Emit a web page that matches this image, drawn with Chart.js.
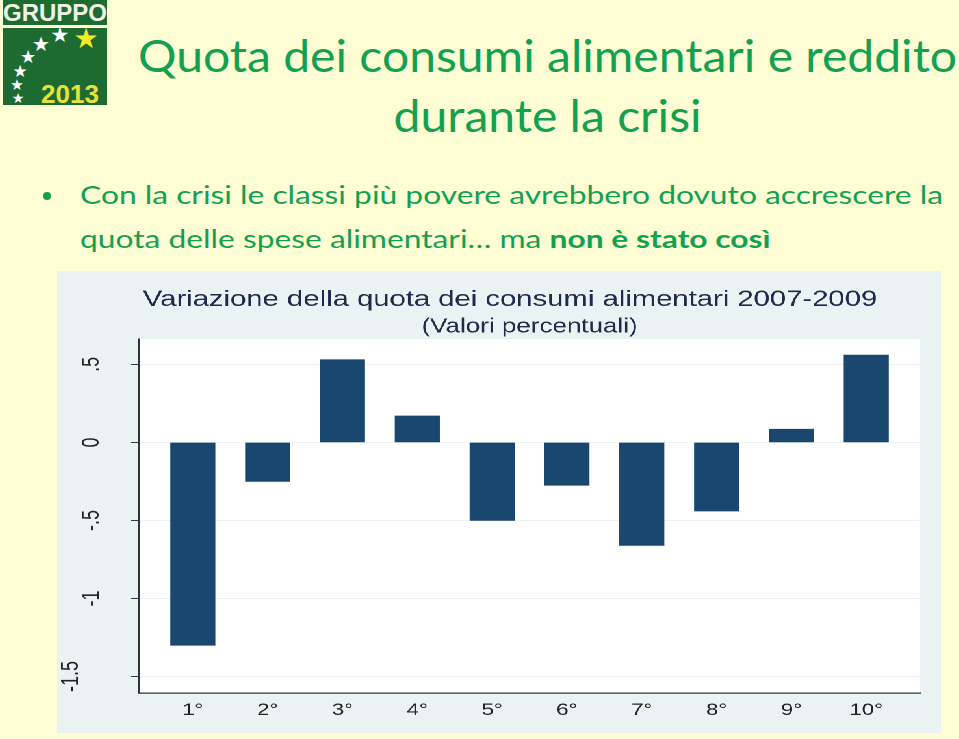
<!DOCTYPE html>
<html>
<head>
<meta charset="utf-8">
<script src="https://cdn.jsdelivr.net/npm/chart.js@4.4.0/dist/chart.umd.min.js"></script>
<style>
  html, body { margin: 0; padding: 0; }
  body {
    width: 959px; height: 739px; position: relative; overflow: hidden;
    background: #FFFDD3; font-family: Lato, "Open Sans", sans-serif;
  }
  .abs { position: absolute; }
  #logo-band {
    left: 3px; top: 0; width: 104px; height: 25px; background: #1D6B30;
    color: #EEF2E6; font: bold 24px "Liberation Sans", Arial, sans-serif;
    line-height: 25px; text-align: center;
  }
  #logo-box { left: 3px; top: 28px; width: 104px; height: 77px; background: #1D6B30; }
  .star {
    position: absolute; color: #fff; font-family: "DejaVu Sans", sans-serif;
    line-height: 1; transform: translate(-50%, -50%);
  }
  #year {
    position: absolute; left: 38px; top: 54px; color: #E6E23A;
    font: bold 26px "Liberation Sans", Arial, sans-serif; line-height: 24px;
  }
  #title {
    left: 138px; top: 25px; color: #12A150; font-size: 44px; line-height: 60px;
    text-align: center; white-space: nowrap; transform-origin: 0 0;
  }
  #bullets {
    left: 80px; top: 172px; color: #12A150; font-size: 25px; line-height: 44px;
    white-space: nowrap; transform-origin: 0 0;
  }
  #dot { left: 43px; top: 192px; width: 8px; height: 8px; border-radius: 50%; background: #12A150; }
  #frame {
    left: 57px; top: 271px; width: 680px; height: 462px; background: #EAF2F3;
    transform: scaleX(1.3); transform-origin: 0 0;
  }
</style>
</head>
<body>
<div id="logo-band" class="abs">GRUPPO</div>
<div id="logo-box" class="abs">
  <span class="star" style="left:57px; top:7px; font-size:21px">★</span>
  <span class="star" style="left:38px; top:16px; font-size:20px">★</span>
  <span class="star" style="left:25px; top:29px; font-size:18px">★</span>
  <span class="star" style="left:17px; top:43px; font-size:17px">★</span>
  <span class="star" style="left:14px; top:57px; font-size:15px">★</span>
  <span class="star" style="left:15px; top:70px; font-size:14px">★</span>
  <span class="star" style="left:83px; top:11px; font-size:28px; color:#F2EC2A">★</span>
  <div id="year">2013</div>
</div>

<div id="title" class="abs">
  <div>Quota dei consumi alimentari e reddito</div>
  <div>durante la crisi</div>
</div>

<div id="dot" class="abs"></div>
<div id="bullets" class="abs">
  <div>Con la crisi le classi più povere avrebbero dovuto accrescere la</div>
  <div>quota delle spese alimentari… ma <b>non è stato così</b></div>
</div>

<div id="frame" class="abs"><canvas id="chart" width="680" height="462"></canvas></div>

<script>
'use strict';

// Deciles and change of the food share 2007-2009
const categories = ['1°', '2°', '3°', '4°', '5°', '6°', '7°', '8°', '9°', '10°'];
const shareChange = [-1.30, -0.25, 0.53, 0.17, -0.50, -0.275, -0.66, -0.44, 0.085, 0.56];
const yTicks = [-1.5, -1, -0.5, 0, 0.5];
const yTickLabels = ['-1.5', '-1', '-.5', '0', '.5'];
const chartTitle = 'Variazione della quota dei consumi alimentari 2007-2009';
const chartSubtitle = '(Valori percentuali)';

const stataFont = '"Liberation Sans", Arial, sans-serif';

// stretch the slide texts to the width they have on the slide
function fitBlock(id, target) {
    const el = document.getElementById(id);
    const w = el.getBoundingClientRect().width;
    el.style.transform = `scaleX(${(target / w).toFixed(4)})`;
}
fitBlock('title', 819);
fitBlock('bullets', 863);

// white plot region, as in Stata's s2color scheme
const plotBackground = {
    id: 'plotBackground',
    beforeDraw(chart) {
        const {ctx, chartArea: a} = chart;
        ctx.save();
        ctx.fillStyle = '#ffffff';
        ctx.fillRect(a.left, a.top, a.right - a.left, a.bottom - a.top);
        ctx.restore();
    }
};

// vertical y labels (Chart.js does not centre rotated y ticks on the tick)
const yLabels = {
    id: 'yLabels',
    afterDraw(chart) {
        const {ctx, scales: {y}} = chart;
        ctx.save();
        ctx.font = '18px ' + stataFont;
        ctx.fillStyle = '#222222';
        ctx.textAlign = 'center';
        ctx.textBaseline = 'middle';
        yTicks.forEach((v, i) => {
            const label = yTickLabels[i];
            // the -1.5 label sits further out in the original
            const x = y.right - (label.length > 3 ? 52 : 36);
            ctx.save();
            ctx.translate(x, y.getPixelForValue(v));
            ctx.rotate(-Math.PI / 2);
            ctx.fillText(label, 0, 0);
            ctx.restore();
        });
        ctx.restore();
    }
};

new Chart(document.getElementById('chart'), {
    type: 'bar',
    data: {
        datasets: [{
            data: shareChange.map((v, i) => ({x: i + 1, y: v})),
            backgroundColor: '#1A476F',
            borderWidth: 0,
            barThickness: 34
        }]
    },
    options: {
        responsive: false,
        animation: false,
        devicePixelRatio: 2,
        layout: {padding: {left: 33, right: 16, top: 0, bottom: 0}},
        plugins: {
            legend: {display: false},
            tooltip: {enabled: false},
            title: {
                display: true,
                text: chartTitle,
                color: '#1E2B4A',
                font: {family: stataFont, size: 22.5, weight: 'normal', lineHeight: 1.2},
                padding: {top: 15.5, bottom: 1.5}
            },
            subtitle: {
                display: true,
                fullSize: false,
                text: chartSubtitle,
                color: '#1E2B4A',
                font: {family: stataFont, size: 20, weight: 'normal', lineHeight: 1.2},
                padding: {top: 0, bottom: 0}
            }
        },
        scales: {
            x: {
                type: 'linear',
                offset: false,
                min: 0.28,
                max: 10.72,
                grid: {display: false, drawTicks: false},
                border: {color: '#333333', width: 1.2},
                ticks: {
                    color: '#222222',
                    font: {family: stataFont, size: 17},
                    padding: 7,
                    autoSkip: false,
                    maxRotation: 0,
                    callback: v => categories[v - 1]
                },
                afterBuildTicks: s => { s.ticks = categories.map((c, i) => ({value: i + 1})); },
                afterFit: s => { s.height = 40; }
            },
            y: {
                min: -1.606,
                max: 0.663,
                grid: {color: '#EAF2F3', tickColor: '#333333', tickLength: 6},
                border: {color: '#333333', width: 1.2},
                ticks: {display: false},
                afterBuildTicks: s => { s.ticks = yTicks.map(v => ({value: v})); },
                afterFit: s => { s.width = 30; }
            }
        }
    },
    plugins: [plotBackground, yLabels]
});
</script>
</body>
</html>
